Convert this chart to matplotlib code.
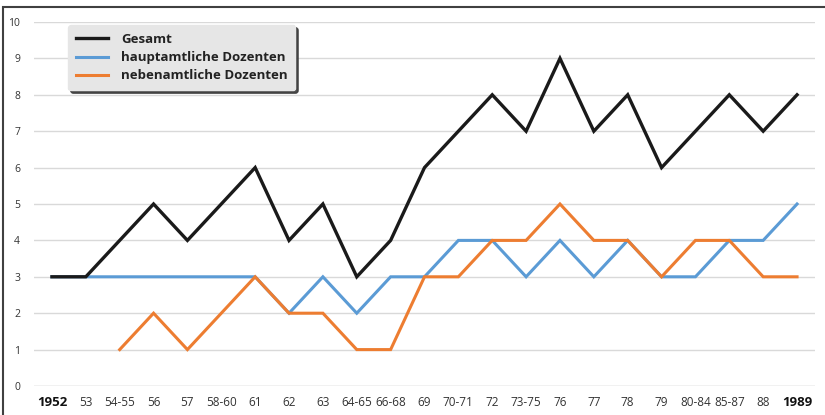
import matplotlib
matplotlib.use("Agg")
import matplotlib.pyplot as plt
from matplotlib.patches import Rectangle
from matplotlib.font_manager import fontManager
import numpy as np

categories = ["1952", "53", "54-55", "56", "57", "58-60", "61", "62", "63", "64-65",
              "66-68", "69", "70-71", "72", "73-75", "76", "77", "78", "79", "80-84",
              "85-87", "88", "1989"]
gesamt = [3, 3, 4, 5, 4, 5, 6, 4, 5, 3, 4, 6, 7, 8, 7, 9, 7, 8, 6, 7, 8, 7, 8]
hauptamtlich = [3, 3, 3, 3, 3, 3, 3, 2, 3, 2, 3, 3, 4, 4, 3, 4, 3, 4, 3, 3, 4, 4, 5]
nebenamtlich = [None, None, 1, 2, 1, 2, 3, 2, 2, 1, 1, 3, 3, 4, 4, 5, 4, 4, 3, 4, 4, 3, 3]
yticks = [0, 1, 2, 3, 4, 5, 6, 7, 8, 9, 10]

names = {f.name for f in fontManager.ttflist}
narrow = "Liberation Sans Narrow" if "Liberation Sans Narrow" in names else "Open Sans"
plt.rcParams['font.family'] = ['Open Sans', 'DejaVu Sans']

W, H = 825, 415
fig = plt.figure(figsize=(W / 100, H / 100), dpi=100)
ax = fig.add_axes([34 / W, 1 - 386 / H, (815 - 34) / W, (386 - 22) / H])

x = np.arange(len(categories))
neb = np.array([np.nan if v is None else v for v in nebenamtlich], dtype=float)

ax.plot(x, hauptamtlich, color="#5b9bd5", lw=2.2, label="hauptamtliche Dozenten", zorder=3,
        solid_joinstyle="miter")
ax.plot(x, neb, color="#ed7d31", lw=2.2, label="nebenamtliche Dozenten", zorder=4,
        solid_joinstyle="miter")
ax.plot(x, gesamt, color="#1a1a1a", lw=2.4, label="Gesamt", zorder=5,
        solid_joinstyle="miter")

ax.set_xlim(-0.53, len(categories) - 1 + 0.53)
ax.set_ylim(0, 10)
ax.set_yticks(yticks)
ax.set_yticklabels([str(v) for v in yticks], fontsize=7.5, color="#333333")
ax.yaxis.grid(True, color="#d9d9d9", lw=1.0)
ax.set_axisbelow(True)
ax.tick_params(axis="y", length=0, pad=10)
ax.tick_params(axis="x", length=0, pad=7)
ax.set_xticks(x)
ax.set_xticklabels(categories, fontsize=8.5, color="#333333", family=[narrow, 'DejaVu Sans'])
for i, lbl in enumerate(ax.get_xticklabels()):
    if i in (0, len(categories) - 1):
        lbl.set_fontweight("bold")
        lbl.set_fontsize(9.5)
        lbl.set_color("#111111")
for s in ax.spines.values():
    s.set_visible(False)
ax.axhline(0, color="#d9d9d9", lw=1.0, zorder=1)

handles, labels = ax.get_legend_handles_labels()
order = [2, 0, 1]
leg = ax.legend([handles[i] for i in order], [labels[i] for i in order],
                loc="upper left",
                bbox_to_anchor=((68 - 34) / (815 - 34), 1 - (25 - 22) / (386 - 22)),
                bbox_transform=ax.transAxes, frameon=True, fancybox=True,
                shadow={'color': '#3a3a3a', 'alpha': 0.9},
                prop={'weight': 'bold', 'size': 9.5, 'family': ['Open Sans', 'DejaVu Sans']},
                handlelength=2.4, borderpad=0.6, labelspacing=0.4, handletextpad=1.0,
                borderaxespad=0)
fr = leg.get_frame()
fr.set_facecolor("#e6e6e6")
fr.set_edgecolor("#e6e6e6")
fr.set_alpha(1)
for t in leg.get_texts():
    t.set_color("#222222")
    t.set_fontweight("bold")

fig.patches.append(Rectangle((3 / W, -0.01), 1.0, 1 - 7 / H + 0.01, transform=fig.transFigure,
                             fill=False, edgecolor="#404040", lw=1.5))

fig.savefig("out.png", dpi=100)
